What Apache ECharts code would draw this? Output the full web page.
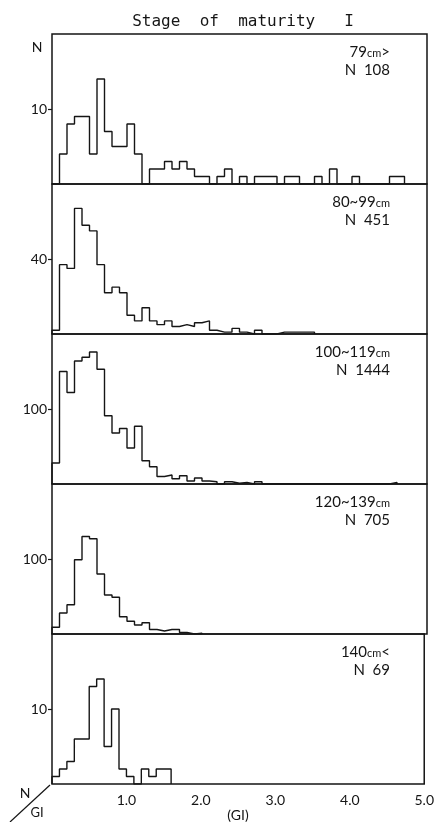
<!DOCTYPE html>
<html>
<head>
<meta charset="utf-8">
<script src="https://cdn.jsdelivr.net/npm/echarts@6/dist/echarts.min.js"></script>
<style>
  html, body { margin: 0; padding: 0; background: #fff; }
  #chart { width: 437px; height: 822px; }
</style>
</head>
<body>
<div id="chart"></div>
<script>
// GI bins of 0.1, starting at 0.0
const binWidth = 0.1;
const p79 = [0, 4, 8, 9, 9, 4, 14, 7, 5, 5, 8, 4, 0, 2, 2, 3, 2, 3, 2, 1, 1, 0, 1, 2, 0, 1, 0, 1, 1, 1, 0, 1, 1, 0, 0, 1, 0, 2, 0, 0, 1, 0, 0, 0, 0, 1, 1];
const p80 = [2, 37, 35, 67, 58, 55, 37, 22, 25, 22, 10, 7, 14, 7, 5, 7, 4, 5, 4, 6, 7, 2, 1, 1, 3, 1, 0, 2, 0, 0, 1, 1, 1, 1, 1];
const p100 = [28, 150, 122, 164, 169, 176, 153, 91, 68, 74, 48, 77, 31, 23, 10, 12, 7, 11, 4, 8, 4, 3, 0, 3, 1, 2, 0, 3, 0, 0, 0, 0, 0, 0, 0, 0, 0, 0, 0, 0, 0, 0, 0, 0, 0, 2];
const p120 = [9, 28, 39, 99, 130, 127, 80, 52, 49, 23, 17, 12, 15, 6, 4, 6, 6, 2, 0, 1];
const p140 = [1, 2, 3, 6, 6, 13, 14, 5, 10, 2, 1, 0, 2, 1, 2, 2];

const panels = [
  { vals: p79, yMax: 20, yTick: 10, size: "79", sign: ">", n: "108" },
  { vals: p80, yMax: 80, yTick: 40, size: "80~99", sign: "", n: "451" },
  { vals: p100, yMax: 200, yTick: 100, size: "100~119", sign: "", n: "1444" },
  { vals: p120, yMax: 200, yTick: 100, size: "120~139", sign: "", n: "705" },
  { vals: p140, yMax: 20, yTick: 10, size: "140", sign: "<", n: "69" }
];
const xTicks = [1, 2, 3, 4, 5];

const font = "Lato, 'DejaVu Sans', sans-serif";
const ink = "#151515";
const top0 = 34, panelH = 150, gridLeft = 52, gridRight = 10;

// outline of a histogram as a stepped line
function stepData(vals) {
  const pts = [[0, 0]];
  vals.forEach((v, i) => pts.push([+(i * binWidth).toFixed(1), v]));
  pts.push([+(vals.length * binWidth).toFixed(1), 0]);
  return pts;
}

const grids = [], xAxes = [], yAxes = [], series = [], graphics = [];
panels.forEach((p, i) => {
  const last = i === panels.length - 1;
  grids.push({
    left: gridLeft, right: gridRight, top: top0 + i * panelH, height: panelH,
    show: true, borderColor: ink, borderWidth: 1.5
  });
  xAxes.push({
    gridIndex: i, type: "value", min: 0, max: 5, interval: 1,
    axisLine: { show: false }, axisTick: { show: false }, splitLine: { show: false },
    axisLabel: {
      show: last, customValues: xTicks, margin: 9,
      formatter: v => v.toFixed(1), color: ink, fontFamily: font, fontSize: 14
    }
  });
  yAxes.push({
    gridIndex: i, type: "value", min: 0, max: p.yMax,
    axisLine: { show: false }, splitLine: { show: false },
    axisTick: { show: true, customValues: [p.yTick], length: 4, lineStyle: { color: ink, width: 1.2 } },
    axisLabel: { customValues: [p.yTick], margin: 5, color: ink, fontFamily: font, fontSize: 14 }
  });
  series.push({
    type: "line", xAxisIndex: i, yAxisIndex: i, step: "end", symbol: "none",
    lineStyle: { color: ink, width: 1.4 }, data: stepData(p.vals), silent: true
  });
  // size class and count, right aligned in the top right corner
  graphics.push({
    type: "text", right: 47, top: top0 + i * panelH + 9,
    style: {
      text: "{a|" + p.size + "}{b|cm}{a|" + p.sign + "}\n{a|N  " + p.n + "}",
      align: "right", lineHeight: 18,
      rich: {
        a: { fontFamily: font, fontSize: 15, fill: ink, lineHeight: 18, align: "right" },
        b: { fontFamily: font, fontSize: 11, fill: ink, lineHeight: 18, align: "right", padding: [3, 0, 0, 0] }
      }
    }
  });
});

graphics.push(
  { type: "text", x: 243, y: 14, style: { text: "Stage  of  maturity   I", fontFamily: "'DejaVu Sans Mono', monospace", fontSize: 16, fill: ink, align: "center" } },
  { type: "text", x: 37, y: 40, style: { text: "N", fontFamily: font, fontSize: 14, fill: ink, align: "center" } },
  { type: "text", x: 25, y: 786, style: { text: "N", fontFamily: font, fontSize: 14, fill: ink, align: "center" } },
  { type: "text", x: 37, y: 806, style: { text: "GI", fontFamily: font, fontSize: 13, fill: ink, align: "center" } },
  { type: "text", x: 238, y: 808, style: { text: "(GI)", fontFamily: font, fontSize: 14, fill: ink, align: "center" } },
  { type: "line", shape: { x1: 10, y1: 822, x2: 50, y2: 785 }, style: { stroke: ink, lineWidth: 1.2 } }
);

const chart = echarts.init(document.getElementById("chart"));
chart.setOption({
  animation: false,
  backgroundColor: "#fff",
  grid: grids,
  xAxis: xAxes,
  yAxis: yAxes,
  series: series,
  graphic: graphics
});
</script>
</body>
</html>
